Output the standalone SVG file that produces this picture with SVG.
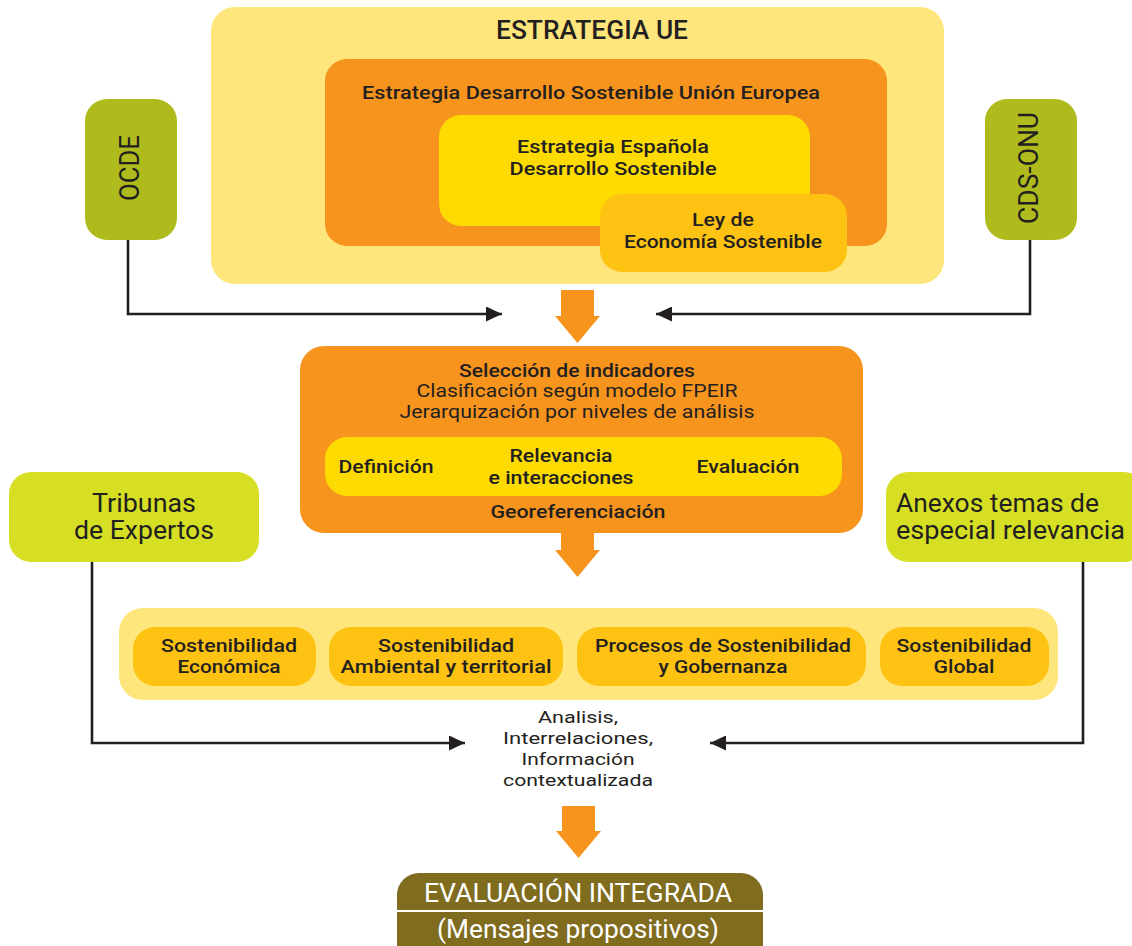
<svg xmlns="http://www.w3.org/2000/svg" width="1132" height="946" viewBox="0 0 1132 946">
<defs>
<style>
text{font-family:Roboto,"Liberation Sans",sans-serif;fill:#231F20;text-anchor:middle;font-weight:500}
.reg{font-weight:400}
.w{fill:#ffffff;font-weight:400}
.conn{fill:none;stroke:#231F20;stroke-width:2.6}
.big{fill:#F7941E}
</style>
<marker id="ah" markerUnits="userSpaceOnUse" markerWidth="17" markerHeight="15" refX="16" refY="7.5" orient="auto">
<path d="M0,0 L16,7.5 L0,15 Z" fill="#231F20"/>
</marker>
</defs>
<rect width="1132" height="946" fill="#ffffff"/>

<g id="estrategia-ue">
<rect x="211" y="7" width="733" height="277" rx="24" fill="#FFE67C"/>
<text x="592" y="39" font-size="25" textLength="192" lengthAdjust="spacingAndGlyphs">ESTRATEGIA UE</text>
</g>
<g id="edsue">
<rect x="325" y="59" width="562" height="187" rx="22" fill="#F7941E"/>
<text x="591" y="99" font-size="19" textLength="458" lengthAdjust="spacingAndGlyphs">Estrategia Desarrollo Sostenible Unión Europea</text>
</g>
<g id="eeds">
<rect x="439" y="115" width="371" height="111" rx="22" fill="#FDDA00"/>
<text x="613" y="153" font-size="19" textLength="192" lengthAdjust="spacingAndGlyphs">Estrategia Española</text>
<text x="613" y="175" font-size="19" textLength="207" lengthAdjust="spacingAndGlyphs">Desarrollo Sostenible</text>
</g>
<g id="ley">
<rect x="600" y="194" width="247" height="78" rx="22" fill="#FDC212"/>
<text x="723" y="226" font-size="19" textLength="62" lengthAdjust="spacingAndGlyphs">Ley de</text>
<text x="723" y="248" font-size="19" textLength="198" lengthAdjust="spacingAndGlyphs">Economía Sostenible</text>
</g>

<g id="ocde">
<rect x="85" y="99" width="92" height="141" rx="22" fill="#AFBB1C"/>
<text transform="translate(139,168) rotate(-90)" x="0" y="0" font-size="27" class="reg" textLength="66" lengthAdjust="spacingAndGlyphs">OCDE</text>
</g>
<g id="cds-onu">
<rect x="985" y="99" width="92" height="141" rx="22" fill="#AFBB1C"/>
<text transform="translate(1038,168) rotate(-90)" x="0" y="0" font-size="27" class="reg" textLength="112" lengthAdjust="spacingAndGlyphs">CDS-ONU</text>
</g>

<g id="seleccion">
<rect x="300" y="346" width="563" height="187" rx="24" fill="#F7941E"/>
<text x="577" y="377" font-size="18" textLength="236" lengthAdjust="spacingAndGlyphs">Selección de indicadores</text>
<text x="577" y="397" font-size="18" class="reg" textLength="321" lengthAdjust="spacingAndGlyphs">Clasificación según modelo FPEIR</text>
<text x="577" y="418" font-size="18" class="reg" textLength="355" lengthAdjust="spacingAndGlyphs">Jerarquización por niveles de análisis</text>
<rect x="325" y="437" width="517" height="59" rx="22" fill="#FDDA00"/>
<text x="386" y="473" font-size="18" textLength="95" lengthAdjust="spacingAndGlyphs">Definición</text>
<text x="561" y="462" font-size="18" textLength="103" lengthAdjust="spacingAndGlyphs">Relevancia</text>
<text x="561" y="484" font-size="18" textLength="145" lengthAdjust="spacingAndGlyphs">e interacciones</text>
<text x="748" y="473" font-size="18" textLength="103" lengthAdjust="spacingAndGlyphs">Evaluación</text>
<text x="578" y="518" font-size="18" textLength="175" lengthAdjust="spacingAndGlyphs">Georeferenciación</text>
</g>

<g id="tribunas">
<rect x="9" y="472" width="250" height="90" rx="22" fill="#D6DF23"/>
<text x="144" y="512" font-size="25" class="reg" textLength="104" lengthAdjust="spacingAndGlyphs">Tribunas</text>
<text x="144" y="539" font-size="25" class="reg" textLength="140" lengthAdjust="spacingAndGlyphs">de Expertos</text>
</g>
<g id="anexos">
<rect x="886" y="472" width="260" height="90" rx="22" fill="#D6DF23"/>
<text x="896" y="512" font-size="25" class="reg" style="text-anchor:start" textLength="203" lengthAdjust="spacingAndGlyphs">Anexos temas de</text>
<text x="896" y="539" font-size="25" class="reg" style="text-anchor:start" textLength="229" lengthAdjust="spacingAndGlyphs">especial relevancia</text>
</g>

<g id="sostenibilidad">
<rect x="119" y="608" width="939" height="92" rx="24" fill="#FFE67C"/>
<g id="s-economica">
<rect x="133" y="627" width="183" height="59" rx="22" fill="#FDC212"/>
<text x="229" y="652" font-size="18" textLength="136" lengthAdjust="spacingAndGlyphs">Sostenibilidad</text>
<text x="229" y="673" font-size="18" textLength="103" lengthAdjust="spacingAndGlyphs">Económica</text>
</g>
<g id="s-ambiental">
<rect x="329" y="627" width="234" height="59" rx="22" fill="#FDC212"/>
<text x="446" y="652" font-size="18" textLength="136" lengthAdjust="spacingAndGlyphs">Sostenibilidad</text>
<text x="446" y="673" font-size="18" textLength="211" lengthAdjust="spacingAndGlyphs">Ambiental y territorial</text>
</g>
<g id="s-procesos">
<rect x="577" y="627" width="289" height="59" rx="22" fill="#FDC212"/>
<text x="723" y="652" font-size="18" textLength="256" lengthAdjust="spacingAndGlyphs">Procesos de Sostenibilidad</text>
<text x="723" y="673" font-size="18" textLength="129" lengthAdjust="spacingAndGlyphs">y Gobernanza</text>
</g>
<g id="s-global">
<rect x="880" y="627" width="169" height="59" rx="22" fill="#FDC212"/>
<text x="964" y="652" font-size="18" textLength="135" lengthAdjust="spacingAndGlyphs">Sostenibilidad</text>
<text x="964" y="673" font-size="18" textLength="61" lengthAdjust="spacingAndGlyphs">Global</text>
</g>
</g>

<g id="analisis">
<text x="578" y="723" font-size="17" class="reg" textLength="80" lengthAdjust="spacingAndGlyphs">Analisis,</text>
<text x="578" y="744" font-size="17" class="reg" textLength="150" lengthAdjust="spacingAndGlyphs">Interrelaciones,</text>
<text x="578" y="765" font-size="17" class="reg" textLength="113" lengthAdjust="spacingAndGlyphs">Información</text>
<text x="578" y="786" font-size="17" class="reg" textLength="150" lengthAdjust="spacingAndGlyphs">contextualizada</text>
</g>

<g id="evaluacion">
<rect x="397" y="873" width="366" height="100" rx="22" fill="#7F6C1F"/>
<line x1="397" y1="911" x2="763" y2="911" stroke="#ffffff" stroke-width="2"/>
<text x="578" y="902" font-size="25" class="w" textLength="308" lengthAdjust="spacingAndGlyphs">EVALUACIÓN INTEGRADA</text>
<text x="578" y="938" font-size="25" class="w" textLength="282" lengthAdjust="spacingAndGlyphs">(Mensajes propositivos)</text>
</g>

<g id="connectors">
<path class="conn" d="M128,240 V314 H502" marker-end="url(#ah)"/>
<path class="conn" d="M1030,240 V314 H656" marker-end="url(#ah)"/>
<path class="conn" d="M92,562 V743 H465" marker-end="url(#ah)"/>
<path class="conn" d="M1083,562 V743 H710" marker-end="url(#ah)"/>
<path class="big" d="M561,290 H594 V316 H600 L577.5,343 L555,316 H561 Z"/>
<path class="big" d="M561,533 H594 V550 H600 L577.5,577 L555,550 H561 Z"/>
<path class="big" d="M562,806 H595 V831 H601 L578.5,858 L556,831 H562 Z"/>
</g>
</svg>
